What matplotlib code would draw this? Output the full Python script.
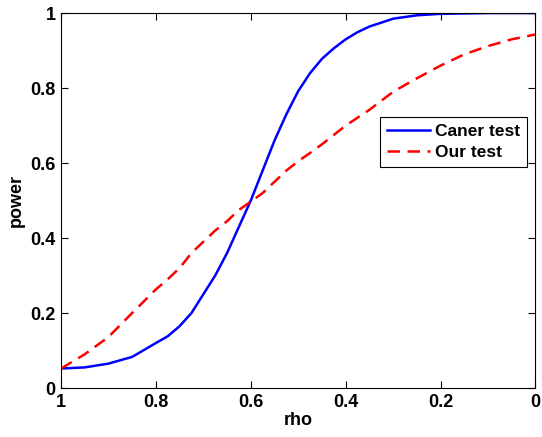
import matplotlib
matplotlib.use('Agg')
import matplotlib.pyplot as plt

# values
rho = [1.0, 0.95, 0.9, 0.85, 0.8, 0.775, 0.75, 0.725, 0.7, 0.675, 0.65, 0.625, 0.6, 0.575,
       0.55, 0.525, 0.5, 0.475, 0.45, 0.425, 0.4, 0.375, 0.35, 0.3, 0.25, 0.2, 0.15, 0.1,
       0.05, 0.0]
caner = [0.052, 0.055, 0.065, 0.083, 0.12, 0.138, 0.165, 0.20, 0.25, 0.30, 0.36, 0.43, 0.50,
         0.58, 0.66, 0.73, 0.792, 0.84, 0.878, 0.906, 0.93, 0.949, 0.964, 0.985, 0.994, 0.998,
         0.999, 1.0, 1.0, 1.0]
ours = [0.052, 0.09, 0.136, 0.20, 0.263, 0.29, 0.32, 0.36, 0.39, 0.42, 0.445, 0.475, 0.497,
        0.52, 0.55, 0.58, 0.605, 0.627, 0.65, 0.675, 0.70, 0.721, 0.742, 0.79, 0.826, 0.86,
        0.89, 0.912, 0.93, 0.943]

xticks = [1, 0.8, 0.6, 0.4, 0.2, 0]
xtick_labels = ['1', '0.8', '0.6', '0.4', '0.2', '0']
yticks = [0, 0.2, 0.4, 0.6, 0.8, 1]
ytick_labels = ['0', '0.2', '0.4', '0.6', '0.8', '1']

plt.rcParams['font.family'] = ['Liberation Sans', 'DejaVu Sans']
plt.rcParams['font.weight'] = 'bold'

fig = plt.figure(figsize=(5.42, 4.37), dpi=100)
ax = fig.add_axes([0.1125, 0.1121, 0.8755, 0.858])
ax.plot(rho, caner, color='#0000ff', lw=1.8, label='Caner test')
ax.plot(rho, ours, color='#ff0000', lw=1.8, ls=(0, (5, 3)), label='Our test')

ax.set_xlim(1, 0)
ax.set_ylim(0, 1)
ax.set_xticks(xticks)
ax.set_xticklabels(xtick_labels)
ax.set_yticks(yticks)
ax.set_yticklabels(ytick_labels)
ax.tick_params(direction='in', top=True, right=True, labelsize=13, length=5, pad=4)
ax.set_xlabel('rho', fontsize=13, fontweight='bold', labelpad=1)
ax.set_ylabel('power', fontsize=13, fontweight='bold', labelpad=4)

leg = ax.legend(loc='upper left', bbox_to_anchor=(0.672, 0.723), fontsize=12.5,
                frameon=True, fancybox=False, edgecolor='black', framealpha=1,
                handlelength=2.5, handletextpad=0.3, borderpad=0.4, labelspacing=0.35,
                borderaxespad=0)
leg.get_frame().set_linewidth(0.8)

fig.savefig('out.png', dpi=100)
